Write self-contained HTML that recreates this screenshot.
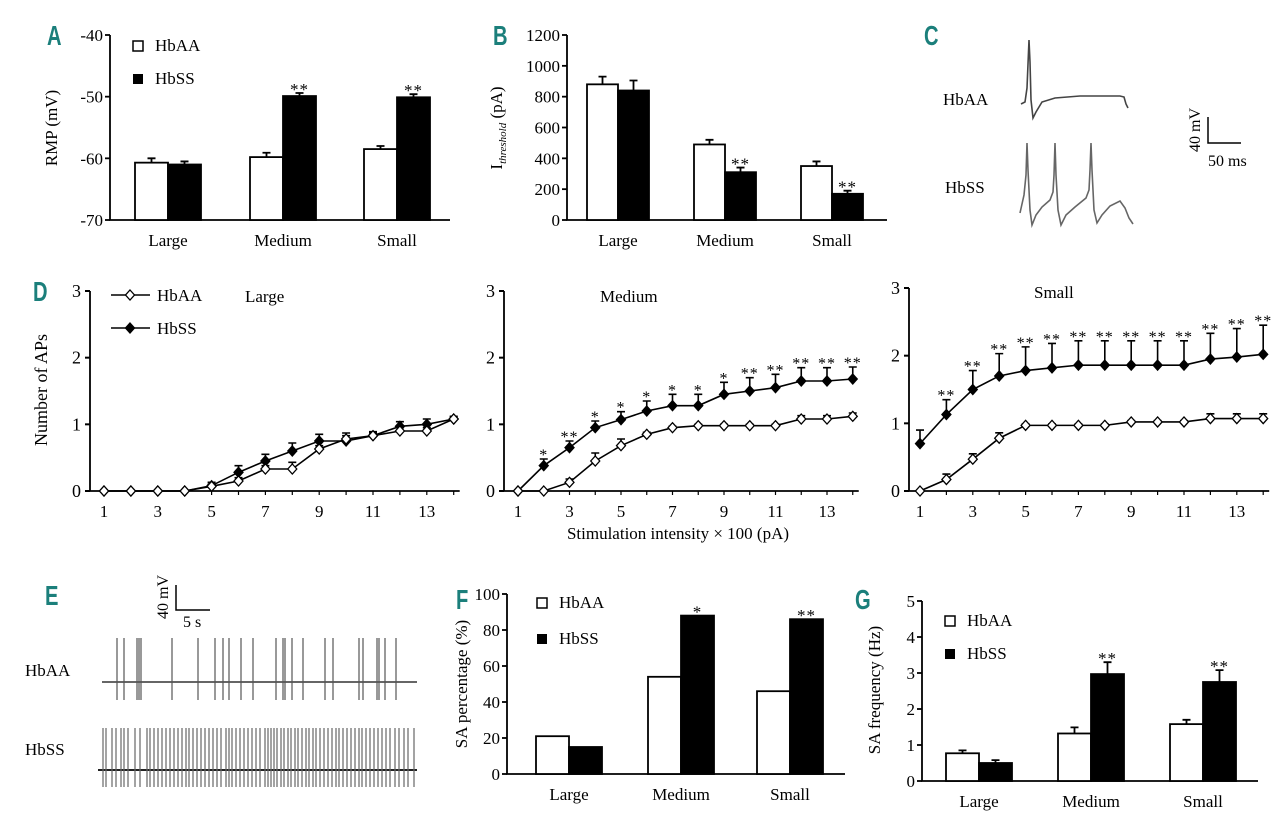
<!DOCTYPE html>
<html><head><meta charset="utf-8"><style>
html,body{margin:0;padding:0;background:#fff;}
svg{display:block;font-family:"Liberation Serif",serif;}
.lt{font-family:"Liberation Sans",sans-serif;font-weight:bold;fill:#1b7f7b;font-size:28px;}
</style></head><body>
<svg id="fig" width="1280" height="816" viewBox="0 0 1280 816" xmlns="http://www.w3.org/2000/svg">
<text class="lt" x="47" y="45" transform="translate(47 0) scale(0.72 1) translate(-47 0)">A</text>
<text class="lt" x="493" y="45" transform="translate(493 0) scale(0.72 1) translate(-493 0)">B</text>
<text class="lt" x="924" y="45" transform="translate(924 0) scale(0.72 1) translate(-924 0)">C</text>
<text class="lt" x="33" y="301" transform="translate(33 0) scale(0.72 1) translate(-33 0)">D</text>
<text class="lt" x="45" y="605" transform="translate(45 0) scale(0.72 1) translate(-45 0)">E</text>
<text class="lt" x="456" y="609" transform="translate(456 0) scale(0.72 1) translate(-456 0)">F</text>
<text class="lt" x="855" y="609" transform="translate(855 0) scale(0.72 1) translate(-855 0)">G</text>

<text transform="translate(57 128) rotate(-90)" text-anchor="middle" font-size="17">RMP (mV)</text>
<text transform="translate(502 128) rotate(-90)" text-anchor="middle" font-size="17">I<tspan font-size="11" font-style="italic" dy="4">threshold</tspan><tspan dy="-4"> (pA)</tspan></text>
<text transform="translate(47 390) rotate(-90)" text-anchor="middle" font-size="18">Number of APs</text>
<text x="678" y="539" text-anchor="middle" font-size="17">Stimulation intensity × 100 (pA)</text>
<text transform="translate(467 684) rotate(-90)" text-anchor="middle" font-size="17">SA percentage (%)</text>
<text transform="translate(880 690) rotate(-90)" text-anchor="middle" font-size="17">SA frequency (Hz)</text>

<text x="943" y="105" font-size="17">HbAA</text>
<text x="945" y="193" font-size="17">HbSS</text>
<path d="M1021,104 L1025,102 L1027,88 L1029,40 L1030,62 L1031,100 L1033,118 L1036,112 L1042,102 L1055,98 L1080,96 L1120,96 L1124,97 L1126,104 L1128,108" fill="none" stroke="#444" stroke-width="1.6"/>
<path d="M1020,213 L1024,195 L1026,175 L1027,143 L1028,170 L1030,210 L1032,225 L1036,215 L1042,207 L1050,200 L1053,192 L1054,175 L1055,143 L1056,175 L1058,210 L1061,225 L1066,215 L1075,207 L1086,198 L1089,190 L1090,170 L1091,143 L1092,170 L1094,210 L1097,223 L1102,215 L1110,206 L1120,201 L1125,208 L1129,218 L1133,224" fill="none" stroke="#666" stroke-width="1.6"/>
<path d="M1208,117 L1208,143 L1241,143" fill="none" stroke="#000" stroke-width="1.5"/>
<text transform="translate(1200 130) rotate(-90)" text-anchor="middle" font-size="16">40 mV</text>
<text x="1208" y="166" font-size="16">50 ms</text>

<path d="M176,585 L176,610 L210,610" fill="none" stroke="#000" stroke-width="1.5"/>
<text transform="translate(168 597) rotate(-90)" text-anchor="middle" font-size="16">40 mV</text>
<text x="183" y="627" font-size="16">5 s</text>
<text x="25" y="676" font-size="17">HbAA</text>
<text x="25" y="755" font-size="17">HbSS</text>
<line x1="102" y1="682" x2="417" y2="682" stroke="#333" stroke-width="1.5"/>
<line x1="98" y1="770" x2="417" y2="770" stroke="#222" stroke-width="2"/>
<g id="etraces"></g>
<g id="charts"></g>
</svg>
<script>
const cats = ["Large","Medium","Small"];
const rmpAA = [-60.7,-59.8,-58.5], rmpSS = [-61.0,-49.9,-50.1];
const rmpAAerr = [0.7,0.7,0.5], rmpSSerr = [0.5,0.5,0.5];
const rmpStars = ["","**","**"];
const rmpTicks = [-40,-50,-60,-70];
const thrAA = [880,490,350], thrSS = [840,310,170];
const thrAAerr = [50,30,30], thrSSerr = [65,30,20];
const thrStars = ["","**","**"];
const thrTicks = [0,200,400,600,800,1000,1200];
const saPctAA = [21,54,46], saPctSS = [15,88,86];
const saPctStars = ["","*","**"];
const saPctTicks = [0,20,40,60,80,100];
const saFreqAA = [0.77,1.32,1.58], saFreqSS = [0.5,2.97,2.75];
const saFreqAAerr = [0.08,0.17,0.12], saFreqSSerr = [0.08,0.33,0.33];
const saFreqStars = ["","**","**"];
const saFreqTicks = [0,1,2,3,4,5];
const stimX = [1,2,3,4,5,6,7,8,9,10,11,12,13,14];
const stimTicks = [1,3,5,7,9,11,13];
const apTicks = [0,1,2,3];
const largeAA = [0,0,0,0,0.07,0.15,0.33,0.33,0.63,0.78,0.83,0.9,0.9,1.08];
const largeSS = [0,0,0,0,0.08,0.28,0.45,0.6,0.75,0.75,0.83,0.97,1.0,1.08];
const largeAAerr = [0,0,0,0,0.03,0.05,0.05,0.1,0.05,0.05,0.04,0.05,0.05,0.03];
const largeSSerr = [0,0,0,0,0.05,0.1,0.1,0.12,0.1,0.12,0.06,0.07,0.08,0.04];
const largeStars = ["","","","","","","","","","","","","",""];
const medAA = [0,0,0.13,0.45,0.68,0.85,0.95,0.98,0.98,0.98,0.98,1.08,1.08,1.12];
const medSS = [0,0.38,0.65,0.95,1.07,1.2,1.28,1.28,1.45,1.5,1.55,1.65,1.65,1.68];
const medAAerr = [0,0,0.05,0.12,0.1,0.03,0.02,0.02,0.02,0.02,0.02,0.05,0.05,0.05];
const medSSerr = [0,0.1,0.1,0.1,0.12,0.15,0.17,0.17,0.18,0.2,0.2,0.2,0.2,0.18];
const medStars = ["","*","**","*","*","*","*","*","*","**","**","**","**","**"];
const smAA = [0,0.17,0.47,0.78,0.97,0.97,0.97,0.97,1.02,1.02,1.02,1.07,1.07,1.07];
const smSS = [0.7,1.13,1.5,1.7,1.78,1.82,1.86,1.86,1.86,1.86,1.86,1.95,1.98,2.02];
const smAAerr = [0,0.08,0.08,0.08,0.02,0.02,0.02,0.02,0.02,0.02,0.02,0.07,0.07,0.07];
const smSSerr = [0.2,0.22,0.28,0.33,0.35,0.36,0.36,0.36,0.36,0.36,0.36,0.38,0.42,0.43];
const smStars = ["","**","**","**","**","**","**","**","**","**","**","**","**","**"];
const eSpikesAA = [117,124,137,139,141,172,198,215,223,229,241,253,276,283,285,292,303,325,333,359,363,377,379,385,396];
const eSpikesSS = [103,106,112,116,121,124,128,135,140,147,150,154,158,162,166,170,174,178,182,186,189,193,197,201,205,209,213,217,221,226,229,232,236,240,244,248,252,256,260,265,268,271,274,277,281,284,288,291,295,298,302,306,309,313,316,320,324,328,332,336,339,343,347,351,355,359,362,366,370,374,378,382,386,390,395,399,404,408,414];

const NS = "http://www.w3.org/2000/svg";
const root = document.getElementById('charts');
function mk(tag, attrs, parent){
  const e = document.createElementNS(NS, tag);
  for (const k in attrs) e.setAttribute(k, attrs[k]);
  (parent||root).appendChild(e);
  return e;
}

const eg = document.getElementById('etraces');
eSpikesAA.forEach(x => {
  const l = mk('line', {x1:x, y1:638, x2:x, y2:700, stroke:'#555', 'stroke-width':1.2}, eg);
  
  
});
eSpikesSS.forEach(x => {
  const l = mk('line', {x1:x, y1:728, x2:x, y2:787, stroke:'#666', 'stroke-width':1.2}, eg);
  
  
});

function barChart(p, aa, ss, aaErr, ssErr, stars, ticks){
  const g = mk('g', {});
  
  
  const y = v => p.y0 + (v - p.vmin) * (p.y1 - p.y0) / (p.vmax - p.vmin);
  const ax = mk('path', {d:`M${p.ax},${p.y1} L${p.ax},${p.y0} L${p.xend},${p.y0}`, fill:'none', stroke:'#000', 'stroke-width':1.8}, g);
  
  
  ticks.forEach(t => {
    const tk = mk('line', {x1:p.ax-5, x2:p.ax, y1:y(t), y2:y(t), stroke:'#000', 'stroke-width':1.8}, g);
    
    
    const tl = mk('text', {x:p.ax-7, y:y(t)+6, 'text-anchor':'end', 'font-size':17}, g);
    tl.textContent = t;
    
    
  });
  const w = p.bw;
  cats.forEach((c, i) => {
    const x0 = p.cx[i] - w;
    const ha = aa[i], hs = ss[i];
    const b1 = mk('rect', {x:x0, y:y(ha), width:w, height:p.y0 - y(ha), fill:'#fff', stroke:'#000', 'stroke-width':1.8}, g);
    
    
    const b2 = mk('rect', {x:x0 + w, y:y(hs), width:w, height:p.y0 - y(hs), fill:'#000', stroke:'#000', 'stroke-width':1.8}, g);
    
    
    let top = y(hs);
    if (aaErr){
      const ea = mk('path', {d:`M${x0+w/2},${y(ha)} V${y(ha+aaErr[i])} M${x0+w/2-4},${y(ha+aaErr[i])} H${x0+w/2+4}`, stroke:'#000', 'stroke-width':1.8, fill:'none'}, g);
      
      
      const es = mk('path', {d:`M${x0+1.5*w},${y(hs)} V${y(hs+ssErr[i])} M${x0+1.5*w-4},${y(hs+ssErr[i])} H${x0+1.5*w+4}`, stroke:'#000', 'stroke-width':1.8, fill:'none'}, g);
      
      
      top = y(hs + ssErr[i]);
    }
    if (stars[i]){
      const st = mk('text', {x:x0+1.5*w, y:top + 2, 'text-anchor':'middle', 'font-size':17, 'letter-spacing':'1'}, g);
      st.textContent = stars[i];
      
      
    }
    const cl = mk('text', {x:p.cx[i], y:p.y0 + 26, 'text-anchor':'middle', 'font-size':17}, g);
    cl.textContent = c;
    
    
  });
  if (p.leg){
    const s1 = mk('rect', {x:p.leg[0], y:p.leg[1]-9, width:10, height:10, fill:'#fff', stroke:'#000', 'stroke-width':1.5}, g);
    
    
    const t1 = mk('text', {x:p.leg[0]+22, y:p.leg[1]+1, 'font-size':17}, g);
    t1.textContent = 'HbAA';
    
    
    const s2 = mk('rect', {x:p.leg[0], y:p.leg[1]+p.leg[2]-9, width:10, height:10, fill:'#000'}, g);
    
    
    const t2 = mk('text', {x:p.leg[0]+22, y:p.leg[1]+p.leg[2]+1, 'font-size':17}, g);
    t2.textContent = 'HbSS';
    
    
  }
}
barChart({name:'panel-a-rmp', ax:110, y0:220, y1:35, xend:450, vmin:-70, vmax:-40, bw:33, cx:[168,283,397], leg:[133,50,33]}, rmpAA, rmpSS, rmpAAerr, rmpSSerr, rmpStars, rmpTicks);
barChart({name:'panel-b-threshold', ax:567, y0:220, y1:35, xend:887, vmin:0, vmax:1200, bw:31, cx:[618,725,832]}, thrAA, thrSS, thrAAerr, thrSSerr, thrStars, thrTicks);
barChart({name:'panel-f-sa-percentage', ax:507, y0:774, y1:594, xend:845, vmin:0, vmax:100, bw:33, cx:[569,681,790], leg:[537,607,36]}, saPctAA, saPctSS, null, null, saPctStars, saPctTicks);
barChart({name:'panel-g-sa-frequency', ax:922, y0:781, y1:601, xend:1258, vmin:0, vmax:5, bw:33, cx:[979,1091,1203], leg:[945,625,33]}, saFreqAA, saFreqSS, saFreqAAerr, saFreqSSerr, saFreqStars, saFreqTicks);

function lineChart(p, aa, ss, aaErr, ssErr, stars){
  const g = mk('g', {});
  
  
  const x = v => p.x1 + (v - 1) * p.step;
  const y = v => p.y0 + v * (p.y3 - p.y0) / 3;
  const ax = mk('path', {d:`M${p.ax},${p.y3} L${p.ax},${p.y0} L${x(14)+6},${p.y0}`, fill:'none', stroke:'#000', 'stroke-width':1.8}, g);
  
  
  apTicks.forEach(t => {
    const tk = mk('line', {x1:p.ax-5, x2:p.ax, y1:y(t), y2:y(t), stroke:'#000', 'stroke-width':2}, g);
    
    
    const tl = mk('text', {x:p.ax-9, y:y(t)+6, 'text-anchor':'end', 'font-size':18}, g);
    tl.textContent = t;
    
    
  });
  stimX.forEach(v => {
    const tk = mk('line', {x1:x(v), x2:x(v), y1:p.y0, y2:p.y0+4, stroke:'#000', 'stroke-width':1.2}, g);
    
    
  });
  stimTicks.forEach(v => {
    const tl = mk('text', {x:x(v), y:p.y0+26, 'text-anchor':'middle', 'font-size':17}, g);
    tl.textContent = v;
    
    
  });
  [[ss, ssErr, '#000', 'hbss'], [aa, aaErr, '#fff', 'hbaa']].forEach(([d, err, fill, nm]) => {
    d.forEach((v, i) => {
      if (err[i] > 0){
        const e = mk('path', {d:`M${x(stimX[i])},${y(v)} V${y(v+err[i])} M${x(stimX[i])-4},${y(v+err[i])} H${x(stimX[i])+4}`, stroke:'#000', 'stroke-width':1.6, fill:'none'}, g);
        
        
      }
    });
    const pl = mk('polyline', {points:d.map((v, i) => x(stimX[i]) + ',' + y(v)).join(' '), fill:'none', stroke:'#000', 'stroke-width':1.6}, g);
    
    
    d.forEach((v, i) => {
      const cx = x(stimX[i]), cy = y(v);
      const m = mk('polygon', {points:`${cx},${cy-5} ${cx+4.5},${cy} ${cx},${cy+5} ${cx-4.5},${cy}`, fill:fill, stroke:'#000', 'stroke-width':1.3}, g);
      
      
    });
  });
  ss.forEach((v, i) => {
    if (stars[i]){
      const st = mk('text', {x:x(stimX[i]), y:y(v + ssErr[i]) + 1, 'text-anchor':'middle', 'font-size':16, 'letter-spacing':'1'}, g);
      st.textContent = stars[i];
      
      
    }
  });
  const tt = mk('text', {x:p.title[0], y:p.title[1], 'font-size':17}, g);
  tt.textContent = p.titleText;
  
  
}
lineChart({name:'panel-d-large', ax:90, y0:491, y3:291, x1:104, step:26.9, title:[245,302], titleText:'Large'}, largeAA, largeSS, largeAAerr, largeSSerr, largeStars);
lineChart({name:'panel-d-medium', ax:504, y0:491, y3:291, x1:518, step:25.75, title:[600,302], titleText:'Medium'}, medAA, medSS, medAAerr, medSSerr, medStars);
lineChart({name:'panel-d-small', ax:909, y0:491, y3:288, x1:920, step:26.4, title:[1034,298], titleText:'Small'}, smAA, smSS, smAAerr, smSSerr, smStars);

[[295, '#fff', 'HbAA'], [328, '#000', 'HbSS']].forEach(([ly, f, t]) => {
  const l = mk('line', {x1:111, x2:150, y1:ly, y2:ly, stroke:'#000', 'stroke-width':1.6});
  
  
  const m = mk('polygon', {points:`130,${ly-5} 134.5,${ly} 130,${ly+5} 125.5,${ly}`, fill:f, stroke:'#000', 'stroke-width':1.3});
  
  
  const tx = mk('text', {x:157, y:ly+6, 'font-size':17});
  tx.textContent = t;
  
  
});
</script>
</body></html>
